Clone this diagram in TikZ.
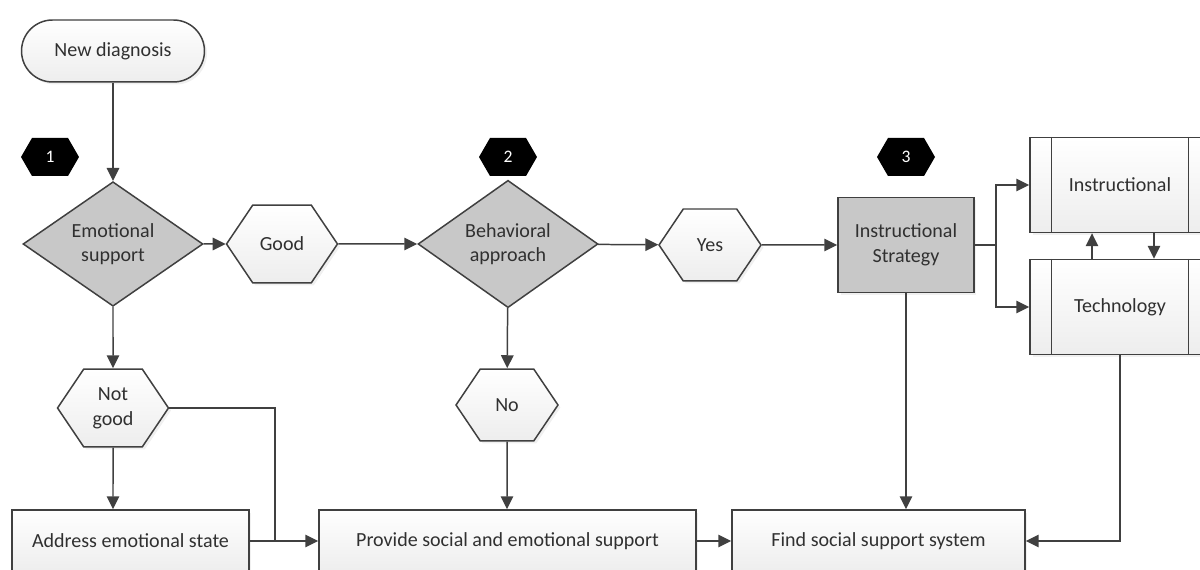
\documentclass[tikz,border=0pt]{standalone}
\usepackage{fontspec}
\setmainfont{Carlito}
\usetikzlibrary{shapes.geometric,shapes.symbols,arrows.meta,shadows}
\definecolor{linegray}{HTML}{404040}
\definecolor{diagray}{HTML}{C8C8C8}
\definecolor{textgray}{HTML}{303030}

\begin{document}
\begin{tikzpicture}[x=0.02cm,y=-0.02cm,
    every node/.style={font=\fontsize{11.4}{14}\selectfont,text=textgray,align=center},
    line/.style={draw=linegray,line width=0.85pt},
    arr/.style={line,-{Triangle[length=0.26cm,width=0.25cm]}},
    soft/.style={top color=white,bottom color=gray!14,drop shadow={opacity=0.12,shadow xshift=0.05cm,shadow yshift=-0.05cm}},
    terminal/.style={line,soft,rectangle,rounded corners=0.62cm,minimum width=3.66cm,minimum height=1.24cm},
    decision/.style={line,diamond,fill=diagray,minimum width=3.6cm,minimum height=2.48cm,inner sep=0pt},
    answer/.style={line,soft,signal,signal to=east and west,signal pointer angle=112,inner sep=0pt},
    marker/.style={signal,signal to=east and west,signal pointer angle=120,fill=black,text=white,minimum width=1.16cm,minimum height=0.76cm,inner sep=0pt,font=\fontsize{10}{11}\selectfont},
    process/.style={line,soft,rectangle,minimum height=1.24cm},
    subprocess/.style={line,soft,rectangle,minimum width=3.6cm,minimum height=1.9cm}]

    \useasboundingbox (0,0) rectangle (1200,570);
    \clip (0,0) rectangle (1200,570);

    % --------------------------------------------------------- %
    % ------------- start and step markers
    % --------------------------------------------------------- %
    \node[terminal] (diag) at (113,51) {New diagnosis};

    \node[marker] (mark1) at (50,157) {1};
    \node[marker] (mark2) at (508,157) {2};
    \node[marker] (mark3) at (906,157) {3};

    % --------------------------------------------------------- %
    % ------------- decisions and answers
    % --------------------------------------------------------- %
    \node[decision] (emo) at (113,244) {Emotional\\support};
    \node[answer,minimum width=2.22cm,minimum height=1.56cm] (good) at (282,244) {Good};
    \node[decision] (behav) at (508,244) {Behavioral\\approach};
    \node[answer,minimum width=2.04cm,minimum height=1.44cm] (yes) at (710,245) {Yes};
    \node[answer,minimum width=2.22cm,minimum height=1.56cm] (notgood) at (113,408) {Not\\good};
    \node[answer,minimum width=2.04cm,minimum height=1.44cm] (no) at (507,405) {No};

    % --------------------------------------------------------- %
    % ------------- strategy and its parts
    % --------------------------------------------------------- %
    \node[line,rectangle,fill=diagray,minimum width=2.72cm,minimum height=1.9cm,
      drop shadow={opacity=0.12,shadow xshift=0.05cm,shadow yshift=-0.05cm}] (strat) at (906,245) {Instructional\\Strategy};
    \node[subprocess] (instr) at (1120,185) {Instructional};
    \node[subprocess] (tech) at (1120,307) {Technology};
    \foreach \sub in {instr,tech} {
      \draw[line] ([xshift=0.44cm]\sub.north west) -- ([xshift=0.44cm]\sub.south west);
      \draw[line] ([xshift=-0.44cm]\sub.north east) -- ([xshift=-0.44cm]\sub.south east);
    }

    % --------------------------------------------------------- %
    % ------------- actions
    % --------------------------------------------------------- %
    \node[process,minimum width=4.74cm] (address) at (130.5,541) {Address emotional state};
    \node[process,minimum width=7.54cm] (provide) at (507.5,541) {Provide social and emotional support};
    \node[process,minimum width=5.86cm] (find) at (878.5,541) {Find social support system};

    % --------------------------------------------------------- %
    % ------------- connectors
    % --------------------------------------------------------- %
    \draw[arr] (diag) -- (emo);
    \draw[arr] (emo) -- (good);
    \draw[arr] (good) -- (behav);
    \draw[arr] (behav) -- (yes);
    \draw[arr] (yes) -- (strat);

    \draw[arr] (emo) -- (notgood);
    \draw[arr] (notgood) -- (notgood |- address.north);
    \coordinate (join) at (275,541);
    \draw[line] (notgood.east) -| (join);
    \draw[arr] (address) -- (provide);

    \draw[arr] (behav) -- (no);
    \draw[arr] (no) -- (no |- provide.north);
    \draw[arr] (provide) -- (find);

    \coordinate (split) at (996,245);
    \draw[line] (strat) -- (split);
    \draw[arr] (split) |- (instr);
    \draw[arr] (split) |- (tech);
    \draw[arr] ([xshift=-0.56cm]tech.north) -- ([xshift=-0.56cm]instr.south);
    \draw[arr] ([xshift=0.68cm]instr.south) -- ([xshift=0.68cm]tech.north);

    \draw[arr] (strat.south) -- (strat.south |- find.north);
    \draw[arr] (tech.south) |- (find.east);

  \end{tikzpicture}
\end{document}
